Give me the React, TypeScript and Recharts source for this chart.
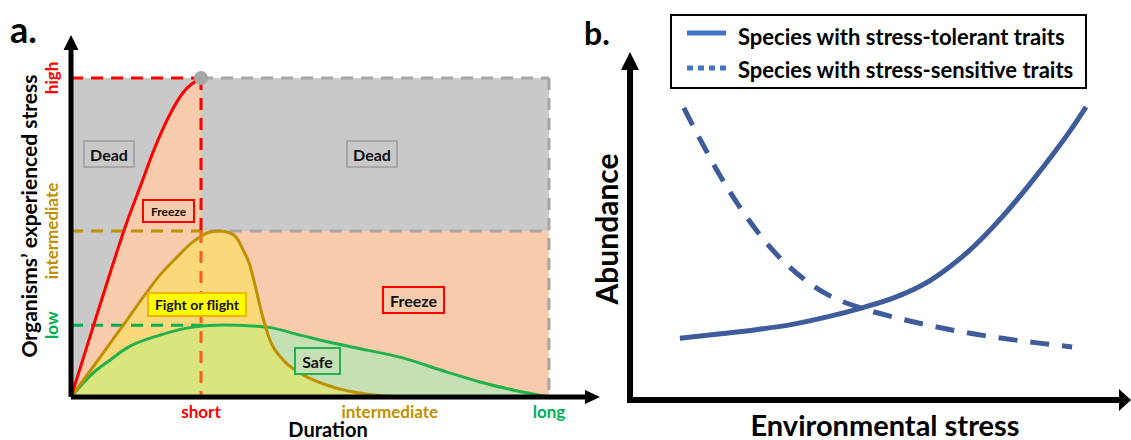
import React from 'react';
import {
  ComposedChart,
  Area,
  Line,
  Scatter,
  XAxis,
  YAxis,
  Label,
} from 'recharts';

// panel a: levels on the stress axis and positions on the duration axis
const highLevel = 100;
const midLevel = 52;
const lowLevel = 22.5;
const shortX = 27.2;
const longX = 100;

const aXTicks = [27.2, 66.7, 100];
const aXTickLabels = ['short', 'intermediate', 'long'];
const aYTicks = [100, 52, 22.5];
const aYTickLabels = ['high', 'intermediate', 'low'];
const tickColors = ['#ff0000', '#bf9000', '#00b050'];

// curves (duration, stress)
const redX = [0, 4, 8, 11.5, 14.5, 17.5, 20.5, 23.5, 27.2];
const redY = [0, 19, 38, 54, 66, 78, 88, 95.5, 100];

const goldX = [0, 4.6, 8.2, 11.7, 15.1, 18.6, 22.2, 25.5, 29.1, 31.2, 33.3, 34.7, 36.0, 37.4, 38.5, 40.0, 41.6, 44.4, 47.9, 54.8, 61.9, 68.8];
const goldY = [0, 9.4, 16.9, 24.1, 31.3, 38.2, 43.9, 48.6, 51.7, 52.0, 51.4, 49.8, 46.1, 41.4, 35.1, 25.7, 17.9, 11.6, 7.5, 3.1, 0.9, 0];

const greenX = [0, 4.6, 8.2, 11.7, 18.6, 25.5, 31.8, 41.0, 47.9, 54.8, 61.9, 68.8, 78.7, 85.6, 92.5, 100];
const greenY = [0, 7.5, 11.6, 15.4, 19.4, 21.9, 22.6, 21.9, 19.4, 16.9, 14.7, 12.5, 7.8, 4.7, 2.2, 0];

// panel b: environmental stress vs abundance
const tolerantX = [10.1, 18.4, 25.5, 32.6, 39.7, 46.8, 53.9, 60.9, 64.6, 68.4, 75.3, 82.4, 89.5, 92.3];
const tolerantY = [18.3, 19.6, 20.8, 22.3, 24.5, 27.2, 30.5, 35.5, 39.3, 43.8, 54.1, 66.6, 80.5, 86.7];
const sensitiveX = [10.9, 20.0, 28.5, 40.1, 46.8, 53.2, 67.4, 82.4, 89.5];
const sensitiveY = [86.4, 62.1, 45.0, 31.1, 27.2, 24.6, 20.1, 16.9, 15.7];

const seriesNames = ['Species with stress-tolerant traits', 'Species with stress-sensitive traits'];

const pts = (xs: number[], ys: number[]) => xs.map((x, i) => ({ x, y: ys[i] }));

const red = pts(redX, redY);
const gold = pts(goldX, goldY);
const green = pts(greenX, greenY);
const tolerant = pts(tolerantX, tolerantY);
const sensitive = pts(sensitiveX, sensitiveY);

const FONT = 'Lato, "Open Sans", sans-serif';
const GRAY = '#c9c9c9';
const PEACH = '#f8cbad';
const DASH_GRAY = '#a6a6a6';
const BLUE = '#3e5c9b';

const XTick = (props: any) => {
  const i = aXTicks.indexOf(props.payload.value);
  return (
    <text x={props.x} y={411} textAnchor="middle" dominantBaseline="central"
      fill={tickColors[i]} fontFamily={FONT} fontSize={17} fontWeight={700}>
      {aXTickLabels[i]}
    </text>
  );
};

const YTick = (props: any) => {
  const i = aYTicks.indexOf(props.payload.value);
  const y = props.y;
  return (
    <text x={52} y={y} transform={`rotate(-90, 52, ${y})`} textAnchor="middle" dominantBaseline="central"
      fill={tickColors[i]} fontFamily={FONT} fontSize={17} fontWeight={700}>
      {aYTickLabels[i]}
    </text>
  );
};

const arrowUp = (h: number, w: number, up: number) => (p: any) => (
  <polygon points={`${p.cx},${p.cy - up} ${p.cx - w},${p.cy - up + h} ${p.cx + w},${p.cy - up + h}`} fill="#000" />
);
const arrowRight = (h: number, w: number, fwd: number) => (p: any) => (
  <polygon points={`${p.cx + fwd},${p.cy} ${p.cx + fwd - h},${p.cy - w} ${p.cx + fwd - h},${p.cy + w}`} fill="#000" />
);

const dashed = (data: any[], color: string, key: string) => (
  <Line key={key} data={data} dataKey="y" type="linear" stroke={color} strokeWidth={3}
    strokeDasharray="12 8" dot={false} activeDot={false} isAnimationActive={false} />
);

const Box = ({ left, top, w, h, bg, border, size, children }: any) => (
  <div style={{
    position: 'absolute', left, top, width: w, height: h, background: bg,
    border: `2px solid ${border}`, boxSizing: 'border-box', display: 'flex',
    alignItems: 'center', justifyContent: 'center', fontFamily: FONT,
    fontWeight: 700, fontSize: size, color: '#111', whiteSpace: 'nowrap',
  }}>{children}</div>
);

function PanelA() {
  return (
    <ComposedChart width={610} height={440} margin={{ top: 46, right: 18, bottom: 0, left: 0 }}>
      <XAxis dataKey="x" type="number" domain={[0, 109]} ticks={aXTicks} interval={0}
        tick={<XTick />} tickLine={false}
        axisLine={{ stroke: '#000', strokeWidth: 5 }} height={43}>
        <Label content={() => (
          <text x={328} y={429} textAnchor="middle" dominantBaseline="central"
            fontFamily={FONT} fontSize={20} fontWeight={700} fill="#000">Duration</text>
        )} />
      </XAxis>
      <YAxis dataKey="y" type="number" domain={[0, 110]} ticks={aYTicks} interval={0}
        tick={<YTick />} tickLine={false}
        axisLine={{ stroke: '#000', strokeWidth: 5 }} width={71}>
        <Label content={() => (
          <text x={28} y={216} transform="rotate(-90, 28, 216)" textAnchor="middle" dominantBaseline="central"
            fontFamily={FONT} fontSize={21} fontWeight={700} fill="#000">Organisms’ experienced stress</text>
        )} />
      </YAxis>

      <Area data={[{ x: 0, y: highLevel }, { x: longX, y: highLevel }]} dataKey="y" type="linear"
        fill={GRAY} fillOpacity={1} stroke="none" isAnimationActive={false} />
      <Area data={red} dataKey="y" type="monotone" fill={PEACH} fillOpacity={1} stroke="none" isAnimationActive={false} />
      <Area data={[{ x: shortX, y: midLevel }, { x: longX, y: midLevel }]} dataKey="y" type="linear"
        fill={PEACH} fillOpacity={1} stroke="none" isAnimationActive={false} />
      <Area data={green} dataKey="y" type="monotone" fill="#c5e0b4" fillOpacity={1} stroke="none" isAnimationActive={false} />
      <Area data={gold} dataKey="y" type="monotone" fill="#faeb32" fillOpacity={0.42} stroke="none" isAnimationActive={false} />

      {dashed([{ x: shortX, y: highLevel }, { x: longX, y: highLevel }], DASH_GRAY, 'gt')}
      {dashed([{ x: longX, y: highLevel }, { x: longX, y: 0 }], DASH_GRAY, 'gr')}
      {dashed([{ x: 29, y: midLevel }, { x: longX, y: midLevel }], DASH_GRAY, 'gm')}
      {dashed([{ x: 0, y: highLevel }, { x: shortX, y: highLevel }], '#ff0000', 'rh')}
      {dashed([{ x: 0, y: midLevel }, { x: 29, y: midLevel }], '#bf9000', 'om')}
      {dashed([{ x: 0, y: lowLevel }, { x: 28, y: lowLevel }], '#00b050', 'gl')}
      {dashed([{ x: shortX, y: highLevel }, { x: shortX, y: midLevel }], '#ff0000', 'sv1')}
      {dashed([{ x: shortX, y: midLevel }, { x: shortX, y: 0 }], '#ff5a1f', 'sv2')}

      <Line data={green} dataKey="y" type="monotone" stroke="#22b14c" strokeWidth={3} dot={false} activeDot={false} isAnimationActive={false} />
      <Line data={gold} dataKey="y" type="monotone" stroke="#bf9000" strokeWidth={3} dot={false} activeDot={false} isAnimationActive={false} />
      <Line data={red} dataKey="y" type="monotone" stroke="#ff0000" strokeWidth={3} dot={false} activeDot={false} isAnimationActive={false} />

      <Scatter data={[{ x: shortX, y: highLevel }]} dataKey="y" fill="#a6a6a6" isAnimationActive={false}
        shape={(p: any) => <circle cx={p.cx} cy={p.cy} r={7} fill="#a6a6a6" />} />
      <Scatter data={[{ x: 0, y: 110 }]} dataKey="y" isAnimationActive={false} shape={arrowUp(15, 7.5, 11)} />
      <Scatter data={[{ x: 109, y: 0 }]} dataKey="y" isAnimationActive={false} shape={arrowRight(15, 7, 8)} />
    </ComposedChart>
  );
}

function PanelB() {
  return (
    <ComposedChart width={561} height={440} margin={{ top: 62, right: 7, bottom: 0, left: 0 }}>
      <XAxis dataKey="x" type="number" domain={[0, 100]} tick={false} tickLine={false}
        axisLine={{ stroke: '#000', strokeWidth: 6, strokeLinecap: 'square' }} height={40}>
        <Label content={() => (
          <text x={315} y={424} textAnchor="middle" dominantBaseline="central"
            fontFamily={FONT} fontSize={29} fontWeight={700} fill="#000">Environmental stress</text>
        )} />
      </XAxis>
      <YAxis dataKey="y" type="number" domain={[0, 100]} tick={false} tickLine={false}
        axisLine={{ stroke: '#000', strokeWidth: 6, strokeLinecap: 'square' }} width={60}>
        <Label content={() => (
          <text x={36} y={229} transform="rotate(-90, 36, 229)" textAnchor="middle" dominantBaseline="central"
            fontFamily={FONT} fontSize={30} fontWeight={700} fill="#000">Abundance</text>
        )} />
      </YAxis>
      <Line data={sensitive} name={seriesNames[1]} dataKey="y" type="monotone" stroke={BLUE} strokeWidth={5}
        strokeDasharray="19 13" dot={false} activeDot={false} isAnimationActive={false} />
      <Line data={tolerant} name={seriesNames[0]} dataKey="y" type="monotone" stroke={BLUE} strokeWidth={5}
        dot={false} activeDot={false} isAnimationActive={false} />
      <Scatter data={[{ x: 0, y: 100 }]} dataKey="y" isAnimationActive={false} shape={arrowUp(18, 9, 10)} />
      <Scatter data={[{ x: 100, y: 0 }]} dataKey="y" isAnimationActive={false} shape={arrowRight(12, 11, 7)} />
    </ComposedChart>
  );
}

export default function App() {
  return (
    <div style={{ position: 'absolute', left: 0, top: 0, width: 1131, height: 440, background: '#fff', overflow: 'hidden' }}>
      <div style={{ position: 'absolute', left: 0, top: 0 }}><PanelA /></div>
      <div style={{ position: 'absolute', left: 570, top: 0 }}><PanelB /></div>

      <Box left={83} top={140} w={52} h={28} bg={GRAY} border="#a6a6a6" size={16}>Dead</Box>
      <Box left={346} top={140} w={52} h={28} bg={GRAY} border="#a6a6a6" size={16}>Dead</Box>
      <Box left={142} top={199} w={53} h={24} bg={PEACH} border="#ff0000" size={12}>Freeze</Box>
      <Box left={147} top={292} w={100} h={25} bg="#ffff00" border="#f4b400" size={14}>Fight or flight</Box>
      <Box left={382} top={286} w={63} h={28} bg={PEACH} border="#ff0000" size={16}>Freeze</Box>
      <Box left={294} top={347} w={47} h={28} bg="#c5e0b4" border="#22b14c" size={16}>Safe</Box>

      <svg width={1131} height={440} style={{ position: 'absolute', left: 0, top: 0, pointerEvents: 'none' }}>
        <text x={10} y={43} fontFamily={FONT} fontSize={36} fontWeight={700} fill="#000">a.</text>
        <text x={584} y={45} fontFamily={FONT} fontSize={32} fontWeight={700} fill="#000">b.</text>
        <rect x={671} y={15} width={415} height={73} fill="#fff" stroke="#000" strokeWidth={2} />
        <line x1={687} y1={33} x2={726} y2={33} stroke="#4472c4" strokeWidth={5} />
        <line x1={687} y1={68} x2={726} y2={68} stroke="#4472c4" strokeWidth={5} strokeDasharray="6 5" />
        <text x={738} y={36} dominantBaseline="central" fontFamily={FONT} fontSize={22} fontWeight={700} fill="#000">{seriesNames[0]}</text>
        <text x={738} y={69} dominantBaseline="central" fontFamily={FONT} fontSize={22} fontWeight={700} fill="#000">{seriesNames[1]}</text>
      </svg>
    </div>
  );
}
